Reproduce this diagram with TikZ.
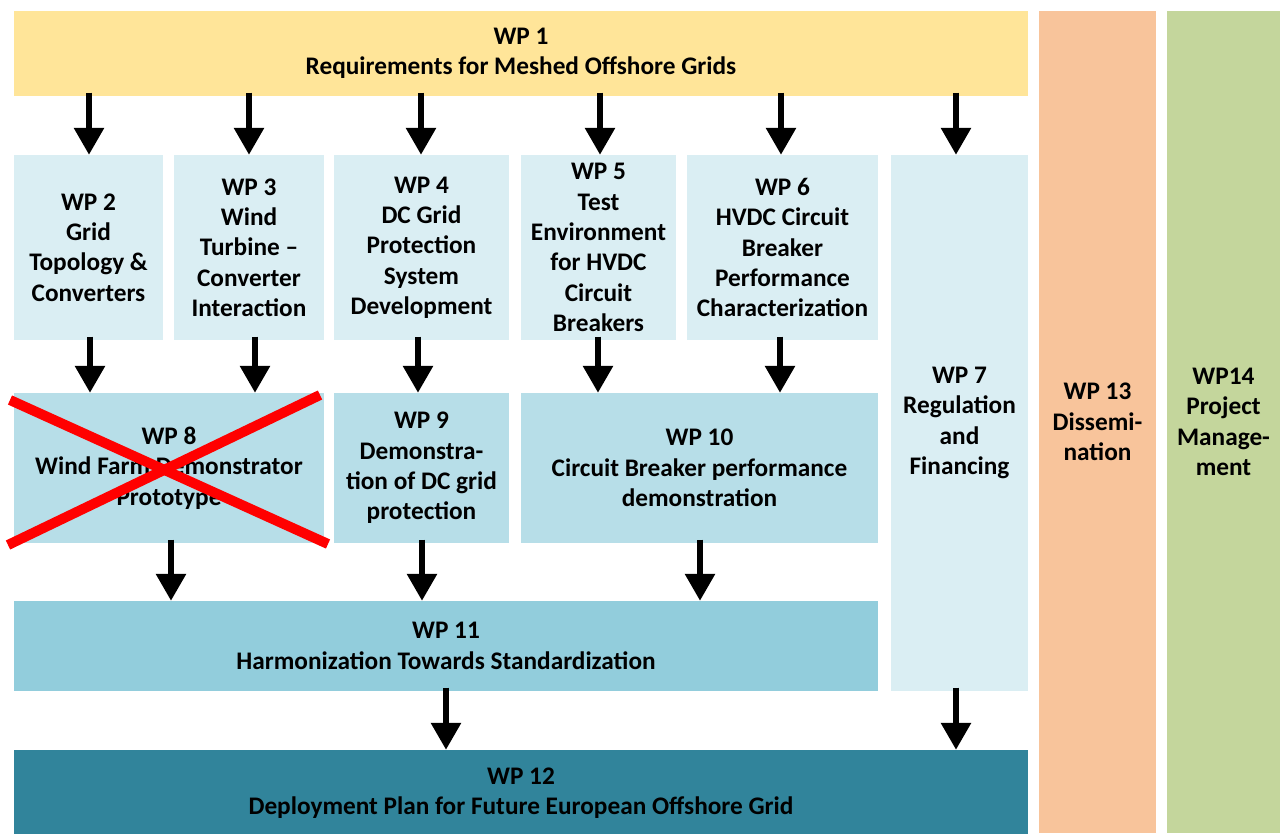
\documentclass[tikz,border=0pt]{standalone}
\usepackage{fontspec}
\setmainfont{Carlito}
\usetikzlibrary{arrows.meta}
\definecolor{wpyellow}{HTML}{FFE599}
\definecolor{wporange}{HTML}{F8C49B}
\definecolor{wpgreen}{HTML}{C4D69C}
\definecolor{wplight}{HTML}{DAEEF3}
\definecolor{wpmid}{HTML}{B7DEE8}
\definecolor{wpblue}{HTML}{92CDDC}
\definecolor{wpteal}{HTML}{31849B}
\begin{document}
\begin{tikzpicture}[x=1pt,y=-1pt,
  wp/.style={draw=none, inner sep=0pt, align=center, text=black,
    font=\fontsize{25.3}{30.3}\selectfont\bfseries},
  arr/.style={line width=6pt, shorten <=-3.5pt,
    -{Triangle[width=29pt,length=27pt]}},
  cross/.style={draw=red, line width=10pt}]
\useasboundingbox (0,0) rectangle (1280,833);

% top requirement bar and the two side columns
\node[wp, fill=wpyellow, minimum width=1014pt, minimum height=85pt] (wp1) at (521,53.5)
  {WP 1\\Requirements for Meshed Offshore Grids};
\node[wp, fill=wporange, minimum width=117pt, minimum height=822pt] (wp13) at (1097.5,422)
  {WP 13\\Dissemi-\\nation};
\node[wp, fill=wpgreen, minimum width=113pt, minimum height=822pt] (wp14) at (1223.5,422)
  {WP14\\Project\\Manage-\\ment};

% research work packages
\node[wp, fill=wplight, minimum width=149pt, minimum height=185pt] (wp2) at (88.5,247.5)
  {WP 2\\Grid\\Topology \&\\Converters};
\node[wp, fill=wplight, minimum width=150pt, minimum height=185pt] (wp3) at (249,247.5)
  {WP 3\\Wind\\Turbine –\\Converter\\Interaction};
\node[wp, fill=wplight, minimum width=175pt, minimum height=185pt] (wp4) at (421.5,247.5)
  {WP 4\\DC Grid\\Protection\\System\\Development};
\node[wp, fill=wplight, minimum width=155pt, minimum height=185pt] (wp5) at (598.5,247.5)
  {WP 5\\Test\\Environment\\for HVDC\\Circuit\\Breakers};
\node[wp, fill=wplight, minimum width=191pt, minimum height=185pt] (wp6) at (782.5,247.5)
  {WP 6\\HVDC Circuit\\Breaker\\Performance\\Characterization};
\node[wp, fill=wplight, minimum width=137pt, minimum height=536pt] (wp7) at (959.5,423)
  {WP 7\\Regulation\\and\\Financing};

% demonstration work packages
\node[wp, fill=wpmid, minimum width=310pt, minimum height=150pt] (wp8) at (169,468)
  {WP 8\\Wind Farm Demonstrator\\Prototype};
\node[wp, fill=wpmid, minimum width=175pt, minimum height=150pt] (wp9) at (421.5,468)
  {WP 9\\Demonstra-\\tion of DC grid\\protection};
\node[wp, fill=wpmid, minimum width=357pt, minimum height=150pt] (wp10) at (699.5,468)
  {WP 10\\Circuit Breaker performance\\demonstration};

% standardisation and deployment
\node[wp, fill=wpblue, minimum width=864pt, minimum height=90pt] (wp11) at (446,646)
  {WP 11\\Harmonization Towards Standardization};
\node[wp, fill=wpteal, minimum width=1014pt, minimum height=86pt] (wp12) at (521,793)
  {WP 12\\Deployment Plan for Future European Offshore Grid};

% flow arrows
\draw[arr] (wp1.south -| 89,0) -- (wp2.north -| 89,0);
\draw[arr] (wp1.south -| 249,0) -- (wp3.north -| 249,0);
\draw[arr] (wp1.south -| 421,0) -- (wp4.north -| 421,0);
\draw[arr] (wp1.south -| 600,0) -- (wp5.north -| 600,0);
\draw[arr] (wp1.south -| 781,0) -- (wp6.north -| 781,0);
\draw[arr] (wp1.south -| 956,0) -- (wp7.north -| 956,0);

\draw[arr] (wp2.south -| 90,0) -- (wp8.north -| 90,0);
\draw[arr] (wp3.south -| 255,0) -- (wp8.north -| 255,0);
\draw[arr] (wp4.south -| 418,0) -- (wp9.north -| 418,0);
\draw[arr] (wp5.south -| 598,0) -- (wp10.north -| 598,0);
\draw[arr] (wp6.south -| 780,0) -- (wp10.north -| 780,0);

\draw[arr] (wp8.south -| 171,0) -- (wp11.north -| 171,0);
\draw[arr] (wp9.south -| 422,0) -- (wp11.north -| 422,0);
\draw[arr] (wp10.south -| 700,0) -- (wp11.north -| 700,0);

\draw[arr] (wp11.south -| 446,0) -- (wp12.north -| 446,0);
\draw[arr] (wp7.south -| 956,0) -- (wp12.north -| 956,0);

% WP 8 struck out
\draw[cross] (10,400) -- (328,544);
\draw[cross] (8,545) -- (320,395);
\end{tikzpicture}
\end{document}
